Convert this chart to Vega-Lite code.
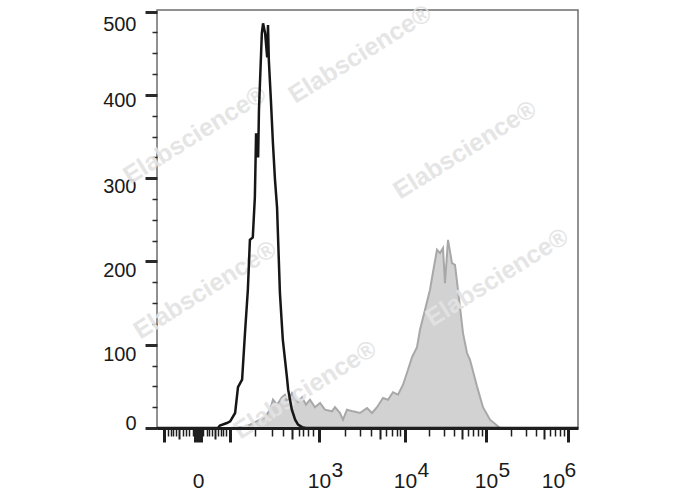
{
  "$schema": "https://vega.github.io/schema/vega-lite/v6.json",
  "width": 421,
  "height": 418,
  "autosize": "none",
  "padding": {"left": 157, "top": 10, "right": 110, "bottom": 62},
  "background": "white",
  "config": {
    "view": {"stroke": "#6e6e6e", "strokeWidth": 1.5},
    "font": "Liberation Sans"
  },
  "datasets": {
    "gray": [
      {"ch": 177.6, "count": 0}, {"ch": 194.6, "count": 1}, {"ch": 209.2, "count": 1},
      {"ch": 226.2, "count": 4}, {"ch": 238.4, "count": 7}, {"ch": 250.5, "count": 10},
      {"ch": 262.7, "count": 13}, {"ch": 274.9, "count": 22}, {"ch": 282.1, "count": 34},
      {"ch": 291.9, "count": 28}, {"ch": 304.0, "count": 37}, {"ch": 311.3, "count": 40},
      {"ch": 316.2, "count": 31}, {"ch": 328.4, "count": 42}, {"ch": 335.7, "count": 36},
      {"ch": 343.0, "count": 31}, {"ch": 352.7, "count": 37}, {"ch": 362.4, "count": 28},
      {"ch": 372.1, "count": 34}, {"ch": 384.3, "count": 25}, {"ch": 396.5, "count": 30},
      {"ch": 408.6, "count": 22}, {"ch": 425.7, "count": 20}, {"ch": 432.9, "count": 25},
      {"ch": 445.1, "count": 18}, {"ch": 452.4, "count": 10}, {"ch": 462.1, "count": 22},
      {"ch": 476.7, "count": 20}, {"ch": 493.8, "count": 18}, {"ch": 510.8, "count": 24},
      {"ch": 523.0, "count": 18}, {"ch": 535.1, "count": 25}, {"ch": 549.7, "count": 36},
      {"ch": 561.9, "count": 34}, {"ch": 574.0, "count": 43}, {"ch": 586.2, "count": 40},
      {"ch": 598.4, "count": 52}, {"ch": 610.5, "count": 70}, {"ch": 620.3, "count": 85},
      {"ch": 632.4, "count": 97}, {"ch": 639.7, "count": 118}, {"ch": 651.9, "count": 142},
      {"ch": 664.0, "count": 166}, {"ch": 671.3, "count": 187}, {"ch": 681.0, "count": 214},
      {"ch": 688.3, "count": 210}, {"ch": 695.6, "count": 216}, {"ch": 700.5, "count": 174},
      {"ch": 707.8, "count": 226}, {"ch": 717.5, "count": 198}, {"ch": 724.8, "count": 196},
      {"ch": 732.1, "count": 166}, {"ch": 744.3, "count": 114}, {"ch": 754.0, "count": 90},
      {"ch": 761.3, "count": 82}, {"ch": 778.3, "count": 50}, {"ch": 792.9, "count": 25},
      {"ch": 810.0, "count": 10}, {"ch": 827.0, "count": 3}, {"ch": 834.3, "count": 0}
    ],
    "black": [
      {"ch": 0, "count": 0}, {"ch": 148, "count": 0}, {"ch": 153, "count": 3},
      {"ch": 170, "count": 6}, {"ch": 178, "count": 8}, {"ch": 190, "count": 18},
      {"ch": 197, "count": 49}, {"ch": 207, "count": 58}, {"ch": 214, "count": 114},
      {"ch": 221, "count": 166}, {"ch": 226, "count": 226}, {"ch": 233, "count": 229},
      {"ch": 238, "count": 277}, {"ch": 241, "count": 354}, {"ch": 246, "count": 325},
      {"ch": 248, "count": 382}, {"ch": 255, "count": 474}, {"ch": 258, "count": 486},
      {"ch": 263, "count": 474}, {"ch": 268, "count": 445}, {"ch": 270, "count": 484},
      {"ch": 272, "count": 442}, {"ch": 277, "count": 394}, {"ch": 282, "count": 342},
      {"ch": 287, "count": 298}, {"ch": 292, "count": 265}, {"ch": 299, "count": 162},
      {"ch": 306, "count": 106}, {"ch": 316, "count": 61}, {"ch": 319, "count": 46},
      {"ch": 328, "count": 22}, {"ch": 336, "count": 10}, {"ch": 343, "count": 4},
      {"ch": 353, "count": 1}, {"ch": 362, "count": 0}, {"ch": 1024, "count": 0}
    ],
    "wm": [
      {"ch": 494, "count": 449, "t": "Elabscience®"},
      {"ch": 92, "count": 352, "t": "Elabscience®"},
      {"ch": 749, "count": 334, "t": "Elabscience®"},
      {"ch": 117, "count": 166, "t": "Elabscience®"},
      {"ch": 827, "count": 181, "t": "Elabscience®"},
      {"ch": 360, "count": 46, "t": "Elabscience®"}
    ]
  },
  "resolve": {"axis": {"x": "independent", "y": "independent"}},
  "layer": [
    {
      "data": {"name": "gray"},
      "mark": {"type": "area", "color": "#d2d2d2", "interpolate": "linear"},
      "encoding": {
        "x": {
          "field": "ch", "type": "quantitative",
          "scale": {"domain": [0, 1024], "nice": false, "zero": false},
          "axis": {
            "orient": "bottom", "title": null, "labels": false, "grid": false,
            "zindex": 1,
            "domain": true, "domainColor": "#1e1e1e", "domainWidth": 3,
            "tickColor": "#1e1e1e",
            "values": [17, 26.8, 34.1, 38.9, 46.2, 53.5, 63.2, 70.5, 77.8, 87.6, 99.7, 111.9, 121.6, 126.5, 133.8, 141.1, 148.4, 155.7, 160.5, 167.8, 177.6, 238.4, 279.7, 306.5, 328.4, 345.4, 355.1, 367.3, 379.4, 394, 457.3, 493.8, 520.5, 542.4, 557, 571.6, 583.8, 591, 603.2, 661.6, 698.1, 722.4, 741.9, 756.4, 768.6, 780.8, 790.5, 800.3, 861, 897.5, 921.8, 941.3, 955.9, 968.1, 980.2, 990, 999.7],
            "tickSize": {"condition": [
              {"test": "indexof([17, 99.7, 177.6, 394, 603.2, 800.3, 999.7], datum.value) >= 0", "value": 14},
              {"test": "indexof([53.5, 141.1, 328.4, 542.4, 741.9, 941.3], datum.value) >= 0", "value": 11}
            ], "value": 8},
            "tickWidth": {"condition": [
              {"test": "datum.value === 99.7", "value": 9},
              {"test": "indexof([17, 177.6, 394, 603.2, 800.3, 999.7], datum.value) >= 0", "value": 3},
              {"test": "indexof([53.5, 141.1, 328.4, 542.4, 741.9, 941.3], datum.value) >= 0", "value": 2}
            ], "value": 1.5}
          }
        },
        "y": {
          "field": "count", "type": "quantitative",
          "scale": {"domain": [0, 502], "nice": false},
          "axis": {
            "orient": "left", "title": null, "grid": false, "domain": false, "labels": false,
            "values": [0, 25, 50, 75, 100, 125, 150, 175, 200, 225, 250, 275, 300, 325, 350, 375, 400, 425, 450, 475, 500],
            "tickColor": "#2a2a2a",
            "tickSize": {"condition": {"test": "datum.value % 100 === 0", "value": 12}, "value": 5},
            "tickWidth": {"condition": {"test": "datum.value % 100 === 0", "value": 3}, "value": 1.5}
          }
        }
      }
    },
    {
      "data": {"name": "gray"},
      "mark": {"type": "line", "color": "#a8a8a8", "strokeWidth": 2, "interpolate": "linear"},
      "encoding": {
        "x": {
          "field": "ch", "type": "quantitative",
          "axis": {
            "orient": "bottom", "title": null, "grid": false, "domain": false, "ticks": false, "tickSize": 0,
            "values": [99.7, 394, 603.2, 800.3, 963.2],
            "labelExpr": "datum.value < 200 ? '0' : '10'",
            "labelFont": "Liberation Sans", "labelFontSize": 21, "labelColor": "#1a1a1a",
            "labelPadding": 42, "labelOverlap": false, "labelBound": false, "labelFlush": false
          }
        },
        "y": {
          "field": "count", "type": "quantitative",
          "axis": {
            "orient": "left", "title": null, "grid": false, "domain": false, "ticks": false, "tickSize": 0,
            "values": [5.4, 88.8, 189.6, 290.4, 393, 484.8],
            "labelExpr": "format(round(datum.value / 100) * 100, 'd')",
            "labelFont": "Liberation Sans", "labelFontSize": 20, "labelColor": "#1a1a1a",
            "labelPadding": 21, "labelOverlap": false, "labelBound": false, "labelFlush": false
          }
        }
      }
    },
    {
      "data": {"name": "wm"},
      "mark": {"type": "text", "color": "#e3e3e3", "opacity": 0.9, "fontSize": 25, "fontWeight": "bold", "angle": -32, "font": "Liberation Sans"},
      "encoding": {
        "x": {"field": "ch", "type": "quantitative", "axis": null},
        "y": {"field": "count", "type": "quantitative", "axis": null},
        "text": {"field": "t"}
      }
    },
    {
      "data": {"name": "black"},
      "mark": {"type": "line", "color": "#161616", "strokeWidth": 2.5, "interpolate": "linear"},
      "encoding": {
        "x": {
          "field": "ch", "type": "quantitative",
          "axis": {
            "orient": "bottom", "title": null, "grid": false, "domain": false, "ticks": false, "tickSize": 0,
            "values": [423.2, 632.4, 829.5, 990],
            "labelExpr": "datum.value < 500 ? '3' : datum.value < 700 ? '4' : datum.value < 900 ? '5' : '6'",
            "labelFont": "Liberation Sans", "labelFontSize": 21, "labelColor": "#1a1a1a",
            "labelAlign": "left",
            "labelPadding": 31, "labelOverlap": false, "labelBound": false, "labelFlush": false
          }
        },
        "y": {"field": "count", "type": "quantitative", "axis": null}
      }
    }
  ]
}
